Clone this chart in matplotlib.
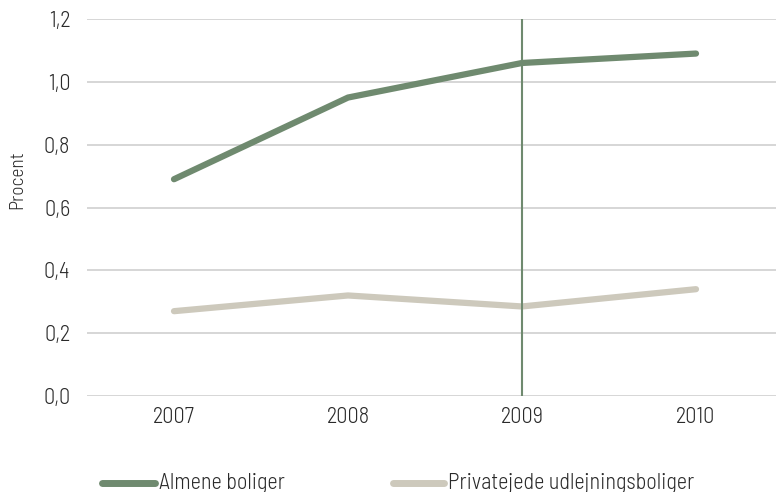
import matplotlib
matplotlib.use('Agg')
import matplotlib.pyplot as plt
from matplotlib.lines import Line2D

plt.rcParams['font.family'] = ['Barlow Semi Condensed', 'DejaVu Sans']
plt.rcParams['font.weight'] = 300

years = ['2007', '2008', '2009', '2010']
almene = [0.69, 0.95, 1.06, 1.09]
private = [0.27, 0.32, 0.285, 0.34]
y_ticks = [0.0, 0.2, 0.4, 0.6, 0.8, 1.0, 1.2]
y_labels = ['0,0', '0,2', '0,4', '0,6', '0,8', '1,0', '1,2']
series_names = ['Almene boliger', 'Privatejede udlejningsboliger']

green = '#6f8a6f'
grey = '#cdc9bc'
txt_col = '#2a2a2a'

W, H = 776, 492
fig = plt.figure(figsize=(W / 100, H / 100), dpi=100)
# axes spans x 87..783 px, y 19..396 px
ax = fig.add_axes([87 / W, 1 - 396 / H, 696 / W, 377 / H])

x = range(len(years))
ax.plot(x, almene, color=green, lw=4.5, solid_capstyle='round', zorder=3)
ax.plot(x, private, color=grey, lw=4.5, solid_capstyle='round', zorder=3)
ax.axvline(2, color=green, lw=1.5, zorder=4)

ax.set_xlim(-0.5, 3.5)
ax.set_ylim(0, 1.2)
ax.set_xticks(list(x))
ax.set_xticklabels(years)
ax.set_yticks(y_ticks)
ax.set_yticklabels(y_labels)
ax.grid(axis='y', color='#d3d3d3', lw=1.3)
ax.set_axisbelow(True)
for s in ax.spines.values():
    s.set_visible(False)
ax.tick_params(length=0, labelsize=16, colors=txt_col)
ax.tick_params(axis='x', pad=8)
ax.tick_params(axis='y', pad=12)

fig.text(17 / W, 1 - 180 / H, 'Procent', rotation=90, ha='center', va='center',
         fontsize=14, color=txt_col)

# legend drawn by hand, handles at px 100-157 and 391-446
leg_y = 1 - 483 / H
for (x0, x1), col, name in zip([(102, 155), (393, 444)], [green, grey], series_names):
    fig.add_artist(Line2D([x0 / W, x1 / W], [leg_y, leg_y], color=col, lw=5,
                          solid_capstyle='round', transform=fig.transFigure))
    fig.text((x1 + 4) / W, leg_y, name, ha='left', va='center', fontsize=16, color=txt_col)

fig.savefig('out.png', dpi=100)
